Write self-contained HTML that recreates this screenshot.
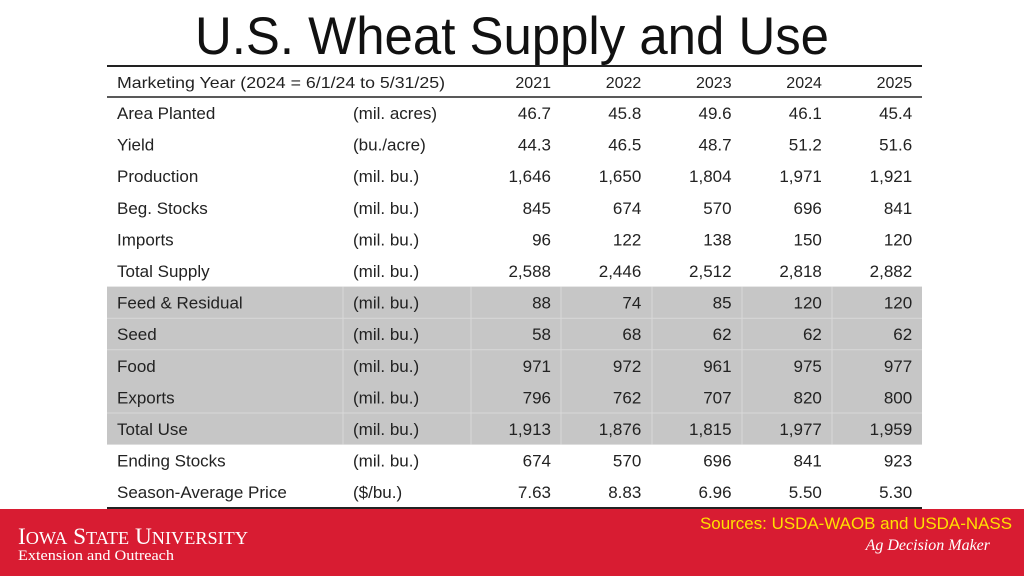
<!DOCTYPE html>
<html><head><meta charset="utf-8"><style>
html,body{margin:0;padding:0;background:#fff;}
svg{display:block;font-family:"Liberation Sans",Arial,sans-serif;}
</style></head><body>
<svg id="s" width="1024" height="576" viewBox="0 0 1024 576">
<text x="512" y="54" text-anchor="middle" font-size="53" fill="#111" textLength="634" lengthAdjust="spacingAndGlyphs">U.S. Wheat Supply and Use</text>
<rect x="0" y="509" width="1024" height="67" fill="#d81c32"/>
<text x="18" y="544" font-family="Liberation Serif,serif" font-size="23" fill="#fff" textLength="230" lengthAdjust="spacingAndGlyphs">I<tspan font-size="18">OWA</tspan> S<tspan font-size="18">TATE</tspan> U<tspan font-size="18">NIVERSITY</tspan></text>
<text x="18" y="560" font-family="Liberation Serif,serif" font-size="15" fill="#fff" textLength="156" lengthAdjust="spacingAndGlyphs">Extension and Outreach</text>
<text x="1012" y="529" text-anchor="end" font-size="17" fill="#ffe000" textLength="312" lengthAdjust="spacingAndGlyphs">Sources: USDA-WAOB and USDA-NASS</text>
<text x="990" y="550" text-anchor="end" font-family="Liberation Serif,serif" font-style="italic" font-size="16" fill="#fff">Ag Decision Maker</text>
<g id="tbl"></g>
</svg>
<script>
const years=["2021","2022","2023","2024","2025"];
const labels=["Area Planted","Yield","Production","Beg. Stocks","Imports","Total Supply","Feed & Residual","Seed","Food","Exports","Total Use","Ending Stocks","Season-Average Price"];
const units=["(mil. acres)","(bu./acre)","(mil. bu.)","(mil. bu.)","(mil. bu.)","(mil. bu.)","(mil. bu.)","(mil. bu.)","(mil. bu.)","(mil. bu.)","(mil. bu.)","(mil. bu.)","($/bu.)"];
const v2021=["46.7","44.3","1,646","845","96","2,588","88","58","971","796","1,913","674","7.63"];
const v2022=["45.8","46.5","1,650","674","122","2,446","74","68","972","762","1,876","570","8.83"];
const v2023=["49.6","48.7","1,804","570","138","2,512","85","62","961","707","1,815","696","6.96"];
const v2024=["46.1","51.2","1,971","696","150","2,818","120","62","975","820","1,977","841","5.50"];
const v2025=["45.4","51.6","1,921","841","120","2,882","120","62","977","800","1,959","923","5.30"];
const cols=[v2021,v2022,v2023,v2024,v2025];
const NS="http://www.w3.org/2000/svg";
const g=document.getElementById('tbl');
const L=107,R=922,top0=97,rh=31.6;
const colRight=i=>551+i*90.3;
const rowY=r=>top0+r*rh;
function el(t,a){const e=document.createElementNS(NS,t);for(const k in a)e.setAttribute(k,a[k]);g.appendChild(e);return e;}
const band=el('rect',{x:L,y:rowY(6),width:R-L,height:rh*5,fill:'#c6c6c6'});


[343,471,561,652,742,832].forEach(x=>{const l=el('line',{x1:x,x2:x,y1:rowY(6),y2:rowY(11),stroke:'#d8d8d8','stroke-width':1});

});
[7,8,10].forEach(r=>{const l=el('line',{x1:L,x2:R,y1:rowY(r),y2:rowY(r),stroke:'#d8d8d8','stroke-width':1});

});
[[66,2],[97,1.5],[508,2]].forEach(([y,w])=>{const l=el('line',{x1:L,x2:R,y1:y,y2:y,stroke:'#222','stroke-width':w});

});
const h=el('text',{x:117,y:88,'font-size':16,fill:'#222',textLength:328,lengthAdjust:'spacingAndGlyphs'});h.textContent="Marketing Year (2024 = 6/1/24 to 5/31/25)";


years.forEach((y,i)=>{const t=el('text',{x:colRight(i),y:88,'font-size':16,fill:'#222','text-anchor':'end'});t.textContent=y;

});
labels.forEach((lab,r)=>{const by=rowY(r)+22;
const a=el('text',{x:117,y:by,'font-size':17,fill:'#222'});a.textContent=lab;


const u=el('text',{x:353,y:by,'font-size':17,fill:'#222'});u.textContent=units[r];


cols.forEach((c,i)=>{const t=el('text',{x:colRight(i),y:by,'font-size':17,fill:'#222','text-anchor':'end'});t.textContent=c[r];

});
});
</script>
</body></html>
